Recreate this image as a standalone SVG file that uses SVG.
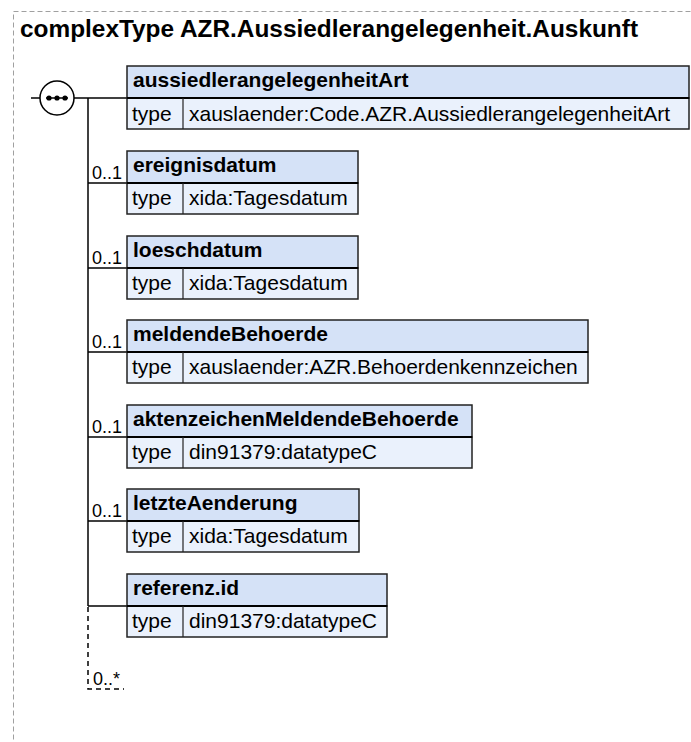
<svg xmlns="http://www.w3.org/2000/svg" width="691" height="742" viewBox="0 0 691 742">
<style>
.frame{fill:none;stroke:#a0a0a0;stroke-width:1;stroke-dasharray:5,3}
.title{font-family:"Liberation Sans",Arial,sans-serif;font-weight:bold;font-size:24.4px;fill:#000}
.hd{fill:#d5e2f7;stroke:#222;stroke-width:1.5}
.rw{fill:#eaf1fc;stroke:#222;stroke-width:1.5}
.dv{stroke:#000;stroke-width:2}
.cd{stroke:#222;stroke-width:1.2}
.nm{font-family:"Liberation Sans",Arial,sans-serif;font-weight:bold;font-size:21px;fill:#000}
.tx{font-family:"Liberation Sans",Arial,sans-serif;font-size:21px;fill:#000}
.oc{font-family:"Liberation Sans",Arial,sans-serif;font-size:18px;fill:#000}
.ln{fill:none;stroke:#000;stroke-width:1.5}
.dash{fill:none;stroke:#000;stroke-width:1.5;stroke-dasharray:5,4}
</style>
<rect class="frame" x="13.5" y="11.5" width="720" height="780"/>
<text class="title" x="20" y="37">complexType AZR.Aussiedlerangelegenheit.Auskunft</text>

<g id="connectors">
  <line class="ln" x1="31" y1="98" x2="40" y2="98"/>
  <line class="ln" x1="74" y1="98" x2="127" y2="98"/>
  <line class="ln" x1="88" y1="98" x2="88" y2="606"/>
  <line class="ln" x1="88" y1="183" x2="127" y2="183"/>
  <line class="ln" x1="88" y1="268" x2="127" y2="268"/>
  <line class="ln" x1="88" y1="352" x2="127" y2="352"/>
  <line class="ln" x1="88" y1="437" x2="127" y2="437"/>
  <line class="ln" x1="88" y1="521" x2="127" y2="521"/>
  <line class="ln" x1="88" y1="606" x2="127" y2="606"/>
  <polyline class="dash" points="88,607 88,689 124,689"/>
  <text class="oc" x="92" y="179">0..1</text>
  <text class="oc" x="92" y="264">0..1</text>
  <text class="oc" x="92" y="348">0..1</text>
  <text class="oc" x="92" y="433">0..1</text>
  <text class="oc" x="92" y="517">0..1</text>
  <text class="oc" x="93" y="685">0..*</text>
</g>

<g id="sequence">
  <circle cx="57" cy="98" r="17" fill="#fff" stroke="#000" stroke-width="1.5"/>
  <line x1="46" y1="98" x2="68" y2="98" stroke="#000" stroke-width="1.5"/>
  <circle cx="49" cy="98" r="2.6" fill="#000"/>
  <circle cx="57" cy="98" r="2.6" fill="#000"/>
  <circle cx="65" cy="98" r="2.6" fill="#000"/>
</g>

<g id="aussiedlerangelegenheitArt">
  <rect class="hd" x="127" y="66" width="562" height="32"/>
  <rect class="rw" x="127" y="98" width="562" height="31"/>
  <line class="dv" x1="127" y1="98" x2="689" y2="98"/>
  <line class="cd" x1="183" y1="98" x2="183" y2="129"/>
  <text class="nm" x="133" y="87">aussiedlerangelegenheitArt</text>
  <text class="tx" x="132" y="121">type</text>
  <text class="tx" x="189" y="121">xauslaender:Code.AZR.AussiedlerangelegenheitArt</text>
</g>

<g id="ereignisdatum">
  <rect class="hd" x="127" y="151" width="231" height="32"/>
  <rect class="rw" x="127" y="183" width="231" height="31"/>
  <line class="dv" x1="127" y1="183" x2="358" y2="183"/>
  <line class="cd" x1="183" y1="183" x2="183" y2="214"/>
  <text class="nm" x="133" y="172">ereignisdatum</text>
  <text class="tx" x="132" y="205">type</text>
  <text class="tx" x="189" y="205">xida:Tagesdatum</text>
</g>

<g id="loeschdatum">
  <rect class="hd" x="127" y="236" width="231" height="32"/>
  <rect class="rw" x="127" y="268" width="231" height="31"/>
  <line class="dv" x1="127" y1="268" x2="358" y2="268"/>
  <line class="cd" x1="183" y1="268" x2="183" y2="299"/>
  <text class="nm" x="133" y="257">loeschdatum</text>
  <text class="tx" x="132" y="290">type</text>
  <text class="tx" x="189" y="290">xida:Tagesdatum</text>
</g>

<g id="meldendeBehoerde">
  <rect class="hd" x="127" y="320" width="461" height="32"/>
  <rect class="rw" x="127" y="352" width="461" height="31"/>
  <line class="dv" x1="127" y1="352" x2="588" y2="352"/>
  <line class="cd" x1="183" y1="352" x2="183" y2="383"/>
  <text class="nm" x="133" y="341">meldendeBehoerde</text>
  <text class="tx" x="132" y="374">type</text>
  <text class="tx" x="189" y="374">xauslaender:AZR.Behoerdenkennzeichen</text>
</g>

<g id="aktenzeichenMeldendeBehoerde">
  <rect class="hd" x="127" y="405" width="345" height="32"/>
  <rect class="rw" x="127" y="437" width="345" height="31"/>
  <line class="dv" x1="127" y1="437" x2="472" y2="437"/>
  <line class="cd" x1="183" y1="437" x2="183" y2="468"/>
  <text class="nm" x="133" y="426">aktenzeichenMeldendeBehoerde</text>
  <text class="tx" x="132" y="459">type</text>
  <text class="tx" x="189" y="459">din91379:datatypeC</text>
</g>

<g id="letzteAenderung">
  <rect class="hd" x="127" y="489" width="232" height="32"/>
  <rect class="rw" x="127" y="521" width="232" height="31"/>
  <line class="dv" x1="127" y1="521" x2="359" y2="521"/>
  <line class="cd" x1="183" y1="521" x2="183" y2="552"/>
  <text class="nm" x="133" y="510">letzteAenderung</text>
  <text class="tx" x="132" y="543">type</text>
  <text class="tx" x="189" y="543">xida:Tagesdatum</text>
</g>

<g id="referenz.id">
  <rect class="hd" x="127" y="574" width="260" height="32"/>
  <rect class="rw" x="127" y="606" width="260" height="31"/>
  <line class="dv" x1="127" y1="606" x2="387" y2="606"/>
  <line class="cd" x1="183" y1="606" x2="183" y2="637"/>
  <text class="nm" x="133" y="595">referenz.id</text>
  <text class="tx" x="132" y="628">type</text>
  <text class="tx" x="189" y="628">din91379:datatypeC</text>
</g>
</svg>
